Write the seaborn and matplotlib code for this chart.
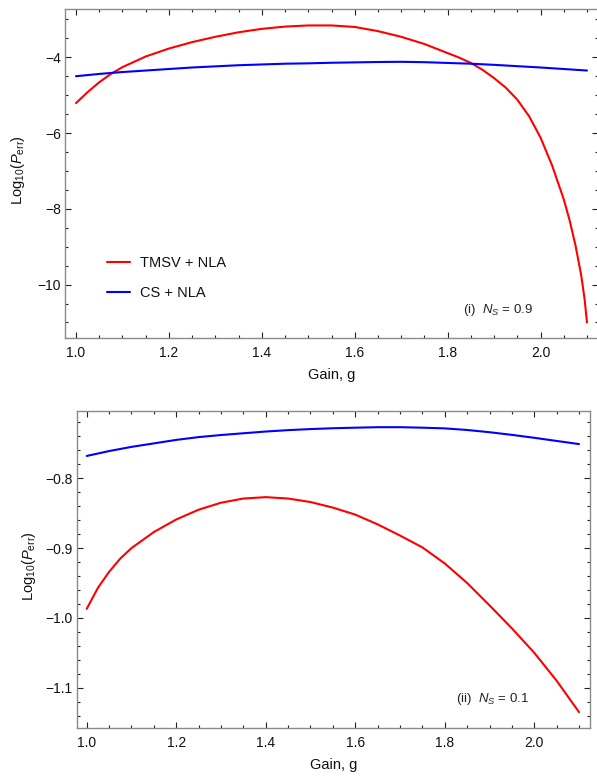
import matplotlib
matplotlib.use("Agg")
import matplotlib.pyplot as plt
from matplotlib.ticker import MultipleLocator, FuncFormatter
import seaborn as sns
import pandas as pd

# Gain grid shared by the slowly varying curves
gain = [1.00, 1.05, 1.10, 1.15, 1.20, 1.25, 1.30, 1.35, 1.40, 1.45, 1.50,
        1.55, 1.60, 1.65, 1.70, 1.75, 1.80, 1.85, 1.90, 1.95, 2.00, 2.05, 2.10]

# Panel (i): N_S = 0.9
gain_i_tmsv = [1.00, 1.025, 1.05, 1.075, 1.10, 1.15, 1.20, 1.25, 1.30, 1.35, 1.40,
               1.45, 1.50, 1.55, 1.60, 1.65, 1.70, 1.75, 1.80, 1.825, 1.85, 1.875,
               1.90, 1.925, 1.95, 1.975, 2.00, 2.025, 2.05, 2.0625, 2.075, 2.0875,
               2.095, 2.10]
tmsv_i = [-5.21, -4.92, -4.66, -4.44, -4.26, -3.98, -3.77, -3.60, -3.46, -3.34, -3.25,
          -3.19, -3.16, -3.16, -3.20, -3.31, -3.46, -3.65, -3.89, -4.01, -4.15, -4.33,
          -4.55, -4.80, -5.12, -5.55, -6.12, -6.86, -7.75, -8.30, -8.95, -9.75,
          -10.40, -11.0]
cs_i = [-4.50, -4.44, -4.39, -4.35, -4.31, -4.27, -4.24, -4.21, -4.19, -4.17,
        -4.16, -4.145, -4.135, -4.125, -4.12, -4.13, -4.15, -4.17, -4.20, -4.235,
        -4.27, -4.31, -4.35]

# Panel (ii): N_S = 0.1
gain_ii_tmsv = [1.00, 1.025, 1.05, 1.075, 1.10, 1.15, 1.20, 1.25, 1.30, 1.35, 1.40,
                1.45, 1.50, 1.55, 1.60, 1.65, 1.70, 1.75, 1.80, 1.85, 1.90, 1.95,
                2.00, 2.05, 2.10]
tmsv_ii = [-0.987, -0.957, -0.934, -0.915, -0.900, -0.877, -0.859, -0.845, -0.835,
           -0.829, -0.827, -0.829, -0.834, -0.842, -0.852, -0.866, -0.882, -0.899,
           -0.922, -0.950, -0.982, -1.015, -1.050, -1.090, -1.135]
cs_ii = [-0.768, -0.761, -0.755, -0.750, -0.745, -0.741, -0.738, -0.7355, -0.733,
         -0.731, -0.7295, -0.7283, -0.7275, -0.7268, -0.7268, -0.7275, -0.7285,
         -0.7308, -0.734, -0.7378, -0.742, -0.7465, -0.751]

series_labels = ["TMSV + NLA", "CS + NLA"]
series_colors = ["#ff0000", "#0000ff"]
panel_notes = [r"(i)  $N_S$ = 0.9", r"(ii)  $N_S$ = 0.1"]
x_label = "Gain, g"
y_label = r"Log$_{10}$($P_{\mathrm{err}}$)"

sns.set_theme(style="ticks")
plt.rcParams["font.family"] = ["Liberation Sans", "DejaVu Sans"]
plt.rcParams["mathtext.fontset"] = "custom"
plt.rcParams["mathtext.rm"] = "Liberation Sans"
plt.rcParams["mathtext.it"] = "Liberation Sans:italic"
plt.rcParams["mathtext.bf"] = "Liberation Sans:bold"

W, H = 597, 777
fig = plt.figure(figsize=(W / 100, H / 100), dpi=100)


def px_axes(left, top, right, bottom):
    return fig.add_axes([left / W, 1 - bottom / H, (right - left) / W, (bottom - top) / H])


def one_decimal(v, _pos):
    return f"{v:.1f}".replace("-", "\u2212")


ax1 = px_axes(65, 9, 598, 338)
ax2 = px_axes(77, 411, 590, 728)

frames = [
    (ax1, gain_i_tmsv, tmsv_i, gain, cs_i),
    (ax2, gain_ii_tmsv, tmsv_ii, gain, cs_ii),
]
for ax, gx_t, yt, gx_c, yc in frames:
    d_t = pd.DataFrame({"g": gx_t, "logp": yt})
    d_c = pd.DataFrame({"g": gx_c, "logp": yc})
    sns.lineplot(data=d_t, x="g", y="logp", ax=ax, color=series_colors[0],
                 lw=1.5, label=series_labels[0], sort=False)
    sns.lineplot(data=d_c, x="g", y="logp", ax=ax, color=series_colors[1],
                 lw=1.5, label=series_labels[1], sort=False)

ax1.set_xlim(0.9763, 2.1237)
ax1.set_ylim(-11.41, -2.726)
ax1.yaxis.set_major_locator(MultipleLocator(2))
ax1.yaxis.set_minor_locator(MultipleLocator(0.5))

ax2.set_xlim(0.9783, 2.1245)
ax2.set_ylim(-1.1577, -0.7036)
ax2.yaxis.set_major_locator(MultipleLocator(0.1))
ax2.yaxis.set_minor_locator(MultipleLocator(0.02))
ax2.yaxis.set_major_formatter(FuncFormatter(one_decimal))

for ax in (ax1, ax2):
    ax.xaxis.set_major_locator(MultipleLocator(0.2))
    ax.xaxis.set_minor_locator(MultipleLocator(0.05))
    ax.xaxis.set_major_formatter(FuncFormatter(one_decimal))
    ax.tick_params(which="both", direction="in", top=True, right=True,
                   color="#222222", width=0.8, labelsize=10, labelcolor="#111111")
    ax.tick_params(which="major", length=4.3)
    ax.tick_params(which="minor", length=2.3)
    ax.tick_params(axis="x", which="major", pad=5.5)
    ax.tick_params(axis="y", which="major", pad=3)
    for s in ax.spines.values():
        s.set_visible(True)
        s.set_color("#8a8a8a")
        s.set_linewidth(1.0)
    ax.set_xlabel(x_label, fontsize=10.5, color="#111111", labelpad=6)
    ax.set_ylabel("")
    ax.get_legend().remove()

leg = ax1.legend(loc="upper left", bbox_to_anchor=(0.079, 0.25), frameon=False,
                 fontsize=10.5, handlelength=1.6, handletextpad=0.65,
                 labelspacing=1.1, borderpad=0, borderaxespad=0)
for t in leg.get_texts():
    t.set_color("#111111")

ax1.text(0.747, 0.085, panel_notes[0], transform=ax1.transAxes, fontsize=9.5,
         va="center", ha="left", color="#222222")
ax2.text(0.739, 0.0915, panel_notes[1], transform=ax2.transAxes, fontsize=9.5,
         va="center", ha="left", color="#222222")

fig.text(18 / W, 1 - 170 / H, y_label, rotation=90, ha="center", va="center",
         fontsize=10.5, color="#111111")
fig.text(29 / W, 1 - 566 / H, y_label, rotation=90, ha="center", va="center",
         fontsize=10.5, color="#111111")

fig.savefig("out.png", dpi=100)
